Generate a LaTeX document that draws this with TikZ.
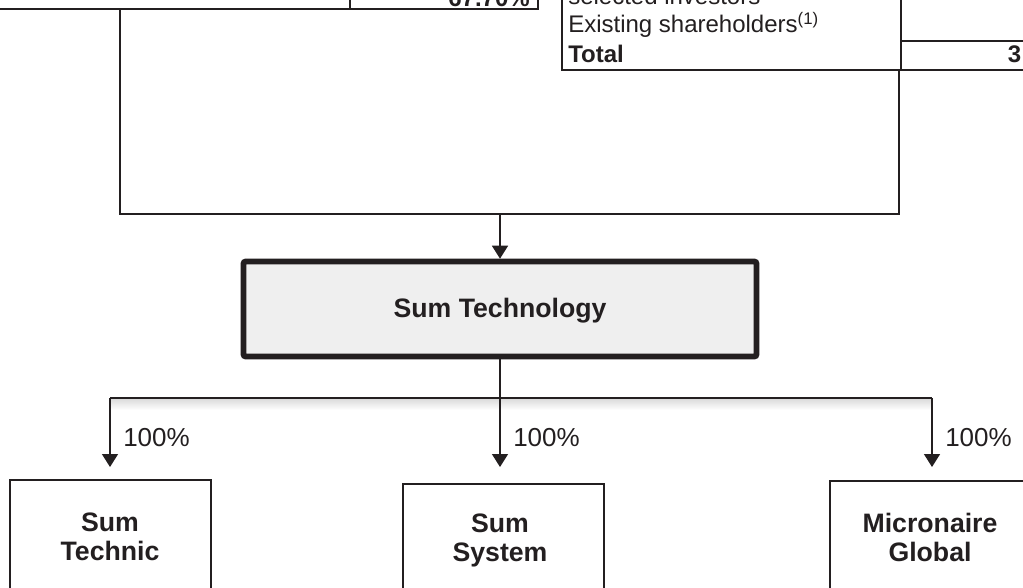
\documentclass[tikz,border=0pt]{standalone}
\usepackage{fontspec}
\setmainfont{Liberation Sans}
\usetikzlibrary{arrows.meta}
\definecolor{ink}{HTML}{231F20}
\definecolor{boxgray}{HTML}{EFEFEF}
\begin{document}
\begin{tikzpicture}[x=0.75pt,y=-0.75pt,
  conn/.style={draw=ink, line width=1.1pt},
  arr/.style={conn, -{Triangle[length=9.75pt,width=12pt]}},
  tbl/.style={draw=ink, line width=1.5pt},
  txt/.style={inner sep=0pt, text=ink, font=\fontsize{18}{21}\selectfont},
  btxt/.style={txt, font=\fontsize{18}{21}\selectfont\bfseries},
  mainbox/.style={draw=ink, line width=4.2pt, fill=boxgray, rounded corners=1.5pt,
    minimum width=384.75pt, minimum height=71.25pt, inner sep=0pt},
  childbox/.style={draw=ink, line width=1.5pt, fill=white, minimum width=150.75pt,
    minimum height=112pt, anchor=north, inner sep=0pt},
  childtxt/.style={align=center, text=ink, inner sep=0pt,
    font=\fontsize{20}{21.75}\selectfont\bfseries},
  pct/.style={anchor=west, inner sep=0pt, text=ink, font=\fontsize{19.5}{22}\selectfont}
]
\useasboundingbox (0,0) rectangle (1023,588);
\clip (0,0) rectangle (1023,588);
\fill[white] (0,0) rectangle (1023,588);

% top-left table (cut off)
\node[tbl, minimum width=419.25pt, minimum height=45pt, anchor=south east, inner sep=0pt] (ltab) at (539,10) {};
\draw[tbl] (350,-60) -- (350,10);
\node[btxt, anchor=base east] (pctA) at (530,7) {67.70\%};

% top-right table (cut off)
\node[tbl, minimum width=360pt, minimum height=90pt, anchor=south west, inner sep=0pt] (rtab) at (561,71) {};
\draw[tbl] (901,-60) -- (901,71);
\draw[tbl] (901,41) -- (1060,41);
\node[txt, anchor=base west] (selinv) at (568,5) {selected investors};
\node[txt, anchor=base west] (exist) at (568,33) {Existing shareholders\textsuperscript{(1)}};
\node[btxt, anchor=base west] (total) at (568,63) {Total};
\node[btxt, anchor=base east] (totalv) at (1021.5,63) {3};

% connectors into Sum Technology
\coordinate (lx) at (120,0);
\coordinate (rx) at (899,0);
\coordinate (join) at (500,214);
\node[mainbox] (tech) at (500,309) {};
\node[inner sep=0pt, text=ink, font=\fontsize{20}{24}\selectfont\bfseries] (techlbl) at (500,311) {Sum Technology};
\draw[conn] (ltab.south -| lx) |- (join) -| (rtab.south -| rx);
\draw[arr] (join) -- (tech.north);

% split to subsidiaries
\coordinate (split) at (500,398);
\coordinate (sl) at (110,398);
\coordinate (sr) at (932,398);
\shade[top color=black!14, bottom color=white] (110,399) rectangle (932,410);
\draw[conn] (tech.south) -- (split);
\draw[conn] (sl) -- (sr);

\coordinate (al) at (110,467);
\coordinate (am) at (500,467);
\coordinate (ar) at (932,467);
\draw[arr] (sl) -- (al);
\draw[arr] (split) -- (am);
\draw[arr] (sr) -- (ar);
\node[pct] (p1) at (123,438) {100\%};
\node[pct] (p2) at (513,438) {100\%};
\node[pct] (p3) at (945,438) {100\%};

% subsidiaries
\node[childbox] (tc) at (110.5,479) {};
\node[childbox] (sy) at (503,483) {};
\node[childbox] (mg) at (930,480) {};
\node[childtxt] (tclbl) at (110,537) {Sum\\Technic};
\node[childtxt] (sylbl) at (500,540) {Sum\\System};
\node[childtxt] (mglbl) at (930,537) {Micronaire\\Global};
\end{tikzpicture}
\end{document}
